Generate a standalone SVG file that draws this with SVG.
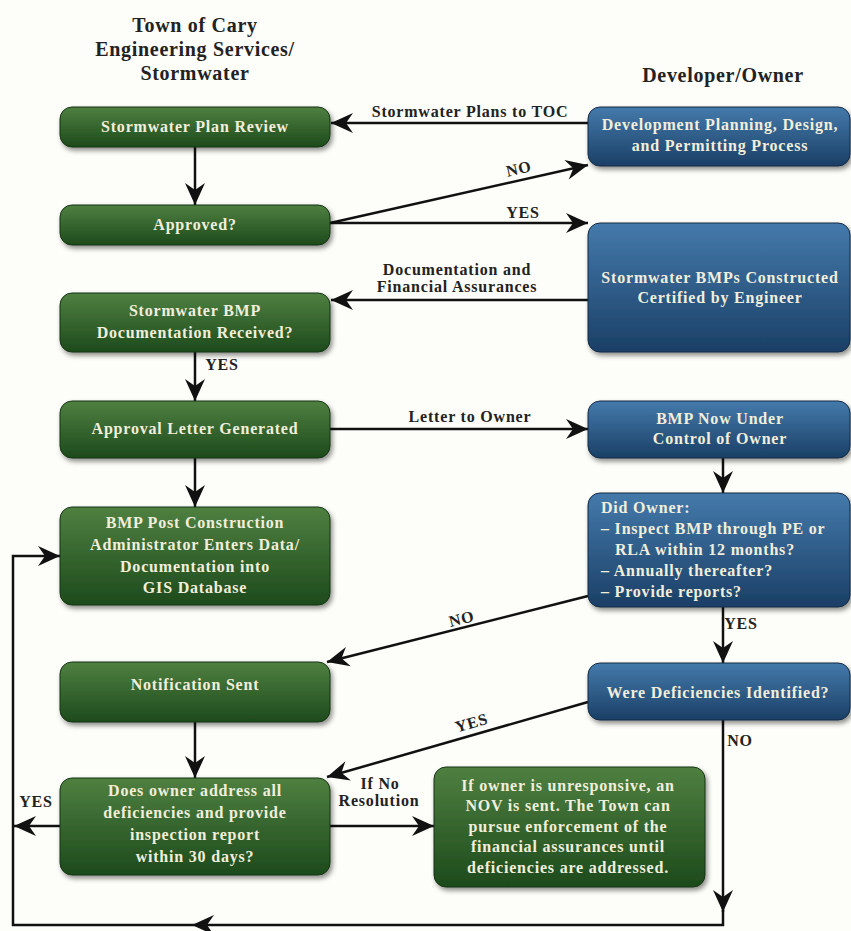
<svg xmlns="http://www.w3.org/2000/svg" width="851" height="931" viewBox="0 0 851 931">
<defs>
<linearGradient id="gG" x1="0" y1="0" x2="0" y2="1">
<stop offset="0" stop-color="#4f8040"/>
<stop offset="1" stop-color="#1d4a1c"/>
</linearGradient>
<linearGradient id="gB" x1="0" y1="0" x2="0" y2="1">
<stop offset="0" stop-color="#447aab"/>
<stop offset="1" stop-color="#1b3f66"/>
</linearGradient>
<filter id="sh" x="-10%" y="-20%" width="130%" height="150%">
<feDropShadow dx="2" dy="3" stdDeviation="2.5" flood-color="#000" flood-opacity="0.45"/>
</filter>
<marker id="ah" viewBox="-24 -12 26 24" refX="0" refY="0" markerWidth="26" markerHeight="24" markerUnits="userSpaceOnUse" orient="auto">
<path d="M0,0 L-22,-10 L-15,0 L-22,10 Z" fill="#111"/>
</marker>
</defs>
<style>
.g{fill:url(#gG);stroke:#173514;stroke-width:1;filter:url(#sh)}
.b{fill:url(#gB);stroke:#122a45;stroke-width:1;filter:url(#sh)}
.t{font-family:"Liberation Serif","Times New Roman",serif;font-weight:bold;font-size:16px;letter-spacing:0.8px;fill:#f1eedc;text-anchor:middle}
.tl{text-anchor:start}
.h{font-family:"Liberation Serif","Times New Roman",serif;font-weight:bold;font-size:20px;letter-spacing:0.7px;fill:#222;text-anchor:middle}
.l{font-family:"Liberation Serif","Times New Roman",serif;font-weight:bold;font-size:16px;letter-spacing:0.8px;fill:#222;text-anchor:middle}
.c{fill:none;stroke:#111;stroke-width:2.5}
.a{marker-end:url(#ah)}
</style>
<rect width="851" height="931" fill="#fdfdf9"/>

<g id="headers">
<text class="h" x="195" y="32">Town of Cary</text>
<text class="h" x="195" y="56">Engineering Services/</text>
<text class="h" x="195" y="80">Stormwater</text>
<text class="h" x="723" y="82">Developer/Owner</text>
</g>

<g id="connectors">
<path class="c a" d="M588,123 H331"/>
<path class="c a" d="M330,223 L588,165"/>
<path class="c a" d="M330,223 H588"/>
<path class="c a" d="M588,300 H331"/>
<path class="c a" d="M195,147 V205"/>
<path class="c a" d="M195,352 V401"/>
<path class="c a" d="M330,429 H588"/>
<path class="c a" d="M195,458 V507"/>
<path class="c a" d="M723,458 V493"/>
<path class="c a" d="M723,607 V663"/>
<path class="c a" d="M588,596 L327,662"/>
<path class="c a" d="M588,702 L327,777"/>
<path class="c a" d="M195,722 V778"/>
<path class="c a" d="M330,826 H434"/>
<path class="c a" d="M60,826 H14"/>
<path class="c a" d="M723,720 V912"/>
<path class="c" d="M723,910 V925 H13 V556 H40"/>
<path class="c a" d="M40,556 H60"/>
<path d="M192,925 L214,915 L207,925 L214,935 Z" fill="#111"/>
<text class="l" x="470" y="117">Stormwater Plans to TOC</text>
<text class="l" transform="translate(520,174) rotate(-12.5)">NO</text>
<text class="l" x="523" y="218">YES</text>
<text class="l" x="457" y="275">Documentation and</text>
<text class="l" x="457" y="292">Financial Assurances</text>
<text class="l" x="222" y="370">YES</text>
<text class="l" x="470" y="422">Letter to Owner</text>
<text class="l" x="741" y="629">YES</text>
<text class="l" transform="translate(463,624) rotate(-14)">NO</text>
<text class="l" transform="translate(473,728) rotate(-16)">YES</text>
<text class="l" x="740" y="746">NO</text>
<text class="l" x="380" y="789">If No</text>
<text class="l" x="379" y="806">Resolution</text>
<text class="l" x="36" y="807">YES</text>
</g>

<g id="n-plan-review">
<rect class="g" x="60" y="107" width="270" height="40" rx="12"/>
<text class="t" x="195" y="132">Stormwater Plan Review</text>
</g>
<g id="n-approved">
<rect class="g" x="60" y="205" width="270" height="40" rx="12"/>
<text class="t" x="195" y="230">Approved?</text>
</g>
<g id="n-doc-received">
<rect class="g" x="60" y="293" width="270" height="59" rx="12"/>
<text class="t" x="195" y="316">Stormwater BMP</text>
<text class="t" x="195" y="338">Documentation Received?</text>
</g>
<g id="n-approval-letter">
<rect class="g" x="60" y="401" width="270" height="57" rx="12"/>
<text class="t" x="195" y="434">Approval Letter Generated</text>
</g>
<g id="n-gis">
<rect class="g" x="60" y="507" width="270" height="98" rx="12"/>
<text class="t" x="195" y="528">BMP Post Construction</text>
<text class="t" x="195" y="550">Administrator Enters Data/</text>
<text class="t" x="195" y="572">Documentation into</text>
<text class="t" x="195" y="593">GIS Database</text>
</g>
<g id="n-notification">
<rect class="g" x="60" y="662" width="270" height="60" rx="12"/>
<text class="t" x="195" y="690">Notification Sent</text>
</g>
<g id="n-does-owner">
<rect class="g" x="60" y="778" width="270" height="97" rx="12"/>
<text class="t" x="195" y="796">Does owner address all</text>
<text class="t" x="195" y="818">deficiencies and provide</text>
<text class="t" x="195" y="840">inspection report</text>
<text class="t" x="195" y="862">within 30 days?</text>
</g>
<g id="n-nov">
<rect class="g" x="434" y="767" width="271" height="120" rx="12"/>
<text class="t" x="568" y="791">If owner is unresponsive, an</text>
<text class="t" x="568" y="811">NOV is sent. The Town can</text>
<text class="t" x="568" y="832">pursue enforcement of the</text>
<text class="t" x="568" y="852">financial assurances until</text>
<text class="t" x="568" y="873">deficiencies are addressed.</text>
</g>

<g id="n-dev-planning">
<rect class="b" x="588" y="107" width="262" height="59" rx="12"/>
<text class="t" x="720" y="130">Development Planning, Design,</text>
<text class="t" x="720" y="151">and Permitting Process</text>
</g>
<g id="n-bmps-constructed">
<rect class="b" x="588" y="223" width="262" height="129" rx="12"/>
<text class="t" x="720" y="283">Stormwater BMPs Constructed</text>
<text class="t" x="720" y="303">Certified by Engineer</text>
</g>
<g id="n-owner-control">
<rect class="b" x="588" y="401" width="262" height="57" rx="12"/>
<text class="t" x="720" y="424">BMP Now Under</text>
<text class="t" x="720" y="444">Control of Owner</text>
</g>
<g id="n-did-owner">
<rect class="b" x="588" y="493" width="262" height="114" rx="12"/>
<text class="t tl" x="601" y="513">Did Owner:</text>
<text class="t tl" x="601" y="534">– Inspect BMP through PE or</text>
<text class="t tl" x="615" y="555">RLA within 12 months?</text>
<text class="t tl" x="601" y="576">– Annually thereafter?</text>
<text class="t tl" x="601" y="597">– Provide reports?</text>
</g>
<g id="n-deficiencies">
<rect class="b" x="588" y="663" width="262" height="57" rx="12"/>
<text class="t" x="718" y="698">Were Deficiencies Identified?</text>
</g>
</svg>
